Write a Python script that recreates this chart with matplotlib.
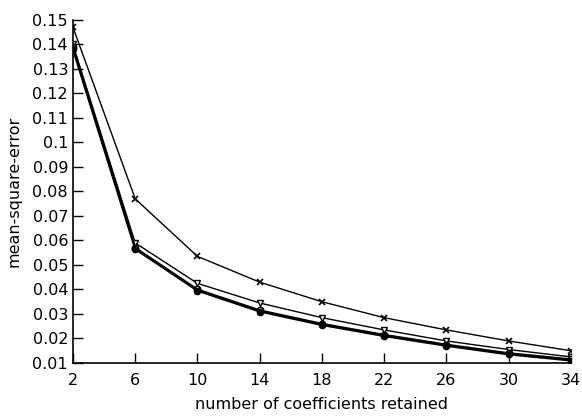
import matplotlib
matplotlib.use("Agg")
import matplotlib.pyplot as plt

# number of coefficients retained
n_coef = [2, 6, 10, 14, 18, 22, 26, 30, 34]

# mean-square-error curves
mse_cross = [0.147, 0.077, 0.0535, 0.043, 0.035, 0.0285, 0.0235, 0.019, 0.015]
mse_tri = [0.140, 0.059, 0.0425, 0.0345, 0.0285, 0.0235, 0.019, 0.0155, 0.0125]
mse_open = [0.139, 0.057, 0.040, 0.0315, 0.026, 0.0215, 0.0175, 0.014, 0.0115]
mse_filled = [0.138, 0.0565, 0.0395, 0.031, 0.0255, 0.021, 0.017, 0.0135, 0.011]

y_ticks = [0.01, 0.02, 0.03, 0.04, 0.05, 0.06, 0.07, 0.08, 0.09, 0.1,
           0.11, 0.12, 0.13, 0.14, 0.15]
y_labels = ["0.01", "0.02", "0.03", "0.04", "0.05", "0.06", "0.07", "0.08",
            "0.09", "0.1", "0.11", "0.12", "0.13", "0.14", "0.15"]

plt.rcParams['font.family'] = ['DejaVu Sans']

fig = plt.figure(figsize=(5.82, 4.16), dpi=100)
ax = fig.add_axes([0.1254, 0.1274, 0.981 - 0.1254, 0.952 - 0.1274])

ax.plot(n_coef, mse_cross, color='black', lw=1.0, marker='x', ms=4.5, mew=1.2)
ax.plot(n_coef, mse_tri, color='black', lw=1.0, marker='v', ms=4.5,
        mfc='white', mew=1.0)
ax.plot(n_coef, mse_open, color='black', lw=1.5, marker='o', ms=4.5,
        mfc='white', mew=1.2)
ax.plot(n_coef, mse_filled, color='black', lw=1.5, marker='o', ms=4.5,
        mfc='black')

ax.set_xlim(2, 34)
ax.set_ylim(0.01, 0.15)
ax.set_xticks(n_coef)
ax.set_yticks(y_ticks)
ax.set_yticklabels(y_labels)
ax.tick_params(direction='in', length=7, width=1, labelsize=11.5, colors='black')
ax.tick_params(axis='x', pad=7)
ax.spines['top'].set_visible(False)
ax.spines['right'].set_visible(False)
ax.spines['left'].set_linewidth(1.2)
ax.spines['bottom'].set_linewidth(1.2)

ax.set_xlabel('number of coefficients retained', fontsize=11.5, labelpad=7)
ax.set_ylabel('mean-square-error', fontsize=11.5, labelpad=8)

fig.savefig('out.png', dpi=100)
